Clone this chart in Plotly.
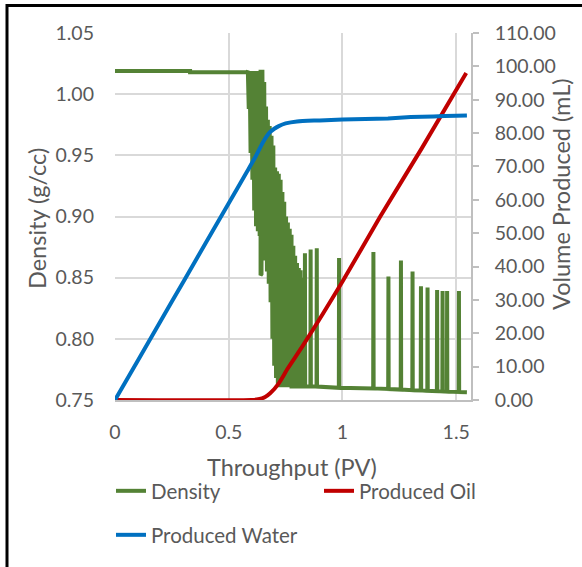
import plotly.graph_objects as go

# ---------------- data ----------------
# Density (g/cc) before breakthrough
pre_x = [0.0, 0.33, 0.33, 0.58]
pre_y = [1.019, 1.019, 1.018, 1.018]

# Oscillating band during breakthrough: x, upper value, lower value
band_x = [0.580, 0.584, 0.588, 0.592, 0.596, 0.600, 0.604, 0.608, 0.612, 0.616,
          0.620, 0.624, 0.628, 0.632, 0.636, 0.640, 0.644, 0.648, 0.652, 0.656,
          0.660, 0.664, 0.668, 0.672, 0.676, 0.680, 0.684, 0.688, 0.692, 0.696,
          0.700, 0.704, 0.708, 0.712, 0.716, 0.720, 0.724, 0.728, 0.732, 0.736,
          0.740, 0.744, 0.748, 0.752, 0.756, 0.760, 0.764, 0.768, 0.772, 0.776,
          0.780, 0.784, 0.788, 0.792, 0.796, 0.800, 0.804, 0.808, 0.812, 0.816,
          0.820, 0.824]
band_hi = [1.018, 1.019, 1.019, 1.019, 1.019, 1.019, 1.019, 1.019, 1.019, 1.019,
           1.019, 1.019, 1.019, 1.019, 1.019, 1.020, 1.020, 1.020, 1.019, 1.010,
           1.001, 0.990, 0.982, 0.979, 0.976, 0.974, 0.970, 0.966, 0.962, 0.958,
           0.945, 0.940, 0.938, 0.937, 0.936, 0.935, 0.932, 0.930, 0.927, 0.920,
           0.916, 0.912, 0.905, 0.900, 0.897, 0.895, 0.892, 0.890, 0.887, 0.885,
           0.880, 0.876, 0.872, 0.868, 0.864, 0.862, 0.860, 0.858, 0.857, 0.856,
           0.855, 0.850]
band_lo = [1.018, 1.000, 0.988, 0.970, 0.952, 0.938, 0.930, 0.922, 0.905, 0.895,
           0.892, 0.890, 0.888, 0.886, 0.884, 0.852, 0.853, 0.880, 0.876, 0.870,
           0.864, 0.859, 0.855, 0.850, 0.845, 0.840, 0.830, 0.818, 0.800, 0.786,
           0.778, 0.772, 0.768, 0.765, 0.763, 0.762, 0.762, 0.762, 0.762, 0.762,
           0.762, 0.762, 0.762, 0.762, 0.762, 0.762, 0.762, 0.762, 0.761, 0.761,
           0.761, 0.761, 0.761, 0.761, 0.761, 0.761, 0.761, 0.761, 0.761, 0.761,
           0.761, 0.761]

# Isolated spikes after breakthrough
spike_x = [0.835, 0.860, 0.887, 0.985, 1.136, 1.202, 1.257, 1.308, 1.345, 1.374,
           1.416, 1.440, 1.460, 1.512]
spike_top = [0.870, 0.873, 0.874, 0.866, 0.871, 0.851, 0.864, 0.855, 0.843, 0.842,
             0.840, 0.839, 0.839, 0.839]
spike_base = [0.761, 0.761, 0.761, 0.760, 0.7595, 0.759, 0.7585, 0.758, 0.7578, 0.7575,
              0.7572, 0.757, 0.7568, 0.7565]
end_x = 1.547
end_y = 0.7563

# Produced water (mL)
water_x = [0.0, 0.10, 0.20, 0.30, 0.40, 0.50, 0.58, 0.62, 0.65, 0.68, 0.70, 0.72,
           0.75, 0.80, 0.90, 1.00, 1.10, 1.20, 1.30, 1.40, 1.50, 1.547]
water_y = [0.0, 11.8, 23.6, 35.4, 47.2, 59.0, 68.4, 73.2, 77.2, 80.2, 81.3, 82.1,
           82.9, 83.5, 83.8, 84.1, 84.2, 84.4, 84.8, 85.0, 85.2, 85.3]

# Produced oil (mL)
oil_x = [0.0, 0.60, 0.63, 0.66, 0.682, 0.72, 0.76, 0.828, 1.00, 1.166, 1.349, 1.544]
oil_y = [0.0, 0.0, 0.2, 0.9, 2.0, 5.0, 9.5, 16.5, 35.5, 55.0, 75.5, 98.0]

x_ticks = [0, 0.5, 1, 1.5]
x_tick_text = ["0", "0.5", "1", "1.5"]

# ---------------- build density series ----------------
dens_x = list(pre_x)
dens_y = list(pre_y)
for bx, hi, lo in zip(band_x, band_hi, band_lo):
    dens_x += [bx, bx]
    dens_y += [hi, lo]
for sx, top, base in zip(spike_x, spike_top, spike_base):
    dens_x += [sx - 0.001, sx, sx + 0.001]
    dens_y += [base, top, base]
dens_x.append(end_x)
dens_y.append(end_y)

FONT = "Lato"
GREY = "#595959"
GRID = "#d9d9d9"
AXIS = "#bfbfbf"

fig = go.Figure()
fig.add_trace(go.Scatter(x=dens_x, y=dens_y, mode="lines", name="Density",
                         line=dict(color="#548235", width=4), legend="legend",
                         showlegend=True))
fig.add_trace(go.Scatter(x=oil_x, y=oil_y, mode="lines", name="Produced Oil",
                         line=dict(color="#C00000", width=4, shape="spline", smoothing=0.6),
                         yaxis="y2", legend="legend2", showlegend=True))
fig.add_trace(go.Scatter(x=water_x, y=water_y, mode="lines", name="Produced Water",
                         line=dict(color="#0070C0", width=4, shape="spline", smoothing=0.6),
                         yaxis="y2", legend="legend3", showlegend=True))

L, R, T, B = 115, 111, 33, 167
W, H = 582, 567
pw, ph = W - L - R, H - T - B


def px(xp):
    return (xp - L) / pw


def py(yp):
    return (H - B - yp) / ph


tickfont = dict(family=FONT, size=19.5, color=GREY)
legfont = dict(family=FONT, size=20.5, color=GREY)
titlefont = dict(family=FONT, size=23.5, color=GREY)

fig.update_layout(
    width=W, height=H,
    margin=dict(l=L, r=R, t=T, b=B),
    paper_bgcolor="white", plot_bgcolor="white",
    font=dict(family=FONT, color=GREY),
    showlegend=True,
    xaxis=dict(range=[0, 1.565], tickvals=x_ticks, ticktext=x_tick_text,
               showgrid=True, gridcolor=GRID, gridwidth=1.5,
               zeroline=False, showline=True, linecolor=AXIS, linewidth=1.5,
               ticks="", tickfont=tickfont, ticklabelstandoff=14),
    yaxis=dict(range=[0.75, 1.05], dtick=0.05, tick0=0.75, tickformat=".2f",
               showgrid=True, gridcolor=GRID, gridwidth=1.5,
               zeroline=False, showline=False, ticks="", tickfont=tickfont,
               ticklabelstandoff=20),
    yaxis2=dict(range=[0, 110], dtick=10, tick0=0, tickformat=".2f",
                overlaying="y", side="right", showgrid=False, zeroline=False,
                showline=True, linecolor=AXIS, linewidth=1.5,
                ticks="outside", ticklen=6, tickcolor=AXIS, tickwidth=1.5,
                tickfont=tickfont, ticklabelstandoff=12),
    legend=dict(x=px(111), y=py(491), xanchor="left", yanchor="middle",
                font=legfont, bgcolor="rgba(0,0,0,0)"),
    legend2=dict(x=px(319), y=py(491), xanchor="left", yanchor="middle",
                 font=legfont, bgcolor="rgba(0,0,0,0)"),
    legend3=dict(x=px(111), y=py(535), xanchor="left", yanchor="middle",
                 font=legfont, bgcolor="rgba(0,0,0,0)"),
    annotations=[
        dict(text="Throughput (PV)", xref="paper", yref="paper",
             x=px(292), y=py(467), xanchor="center", yanchor="middle",
             showarrow=False, font=titlefont),
        dict(text="Density (g/cc)", xref="paper", yref="paper",
             x=px(37), y=py(219), xanchor="center", yanchor="middle",
             showarrow=False, textangle=-90, font=titlefont),
        dict(text="Volume Produced (mL)", xref="paper", yref="paper",
             x=px(561), y=py(194), xanchor="center", yanchor="middle",
             showarrow=False, textangle=-90, font=titlefont),
    ],
    shapes=[dict(type="rect", xref="paper", yref="paper",
                 x0=px(7), y0=py(5.5), x1=px(700), y1=py(700),
                 line=dict(color="black", width=3), fillcolor="rgba(0,0,0,0)",
                 layer="above")],
)

fig.write_html("out.html")
